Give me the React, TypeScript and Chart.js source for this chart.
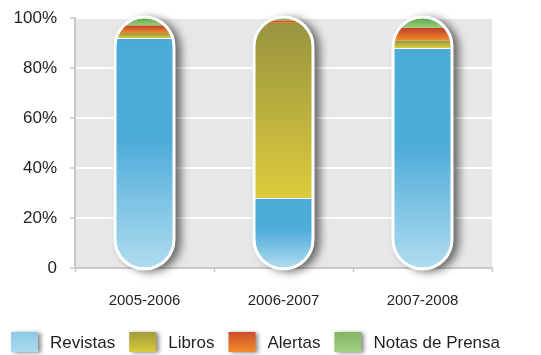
import React, { useEffect, useRef } from "react";
import { Chart, registerables } from "chart.js";

Chart.register(...registerables);

const categories = ["2005-2006", "2006-2007", "2007-2008"];
const seriesNames = ["Revistas", "Libros", "Alertas", "Notas de Prensa"];
const revistas = [92, 28, 88];
const libros = [2, 70, 3];
const alertas = [3, 1, 5];
const notas = [3, 1, 4];
const yTicks = [0, 20, 40, 60, 80, 100];

// gradient stops, top -> bottom
const segStops: [number, string][][] = [
  [[0, "#4aaad8"], [0.45, "#4eacd9"], [1, "#b0dcef"]],
  [[0, "#989440"], [1, "#dccb3c"]],
  [[0, "#c0402a"], [1, "#f28c2c"]],
  [[0, "#58a84a"], [1, "#a0ce7c"]],
];
const legendStops: [number, string][][] = [
  [[0, "#8ccae6"], [1, "#acd9ee"]],
  [[0, "#a29a3a"], [1, "#d8ca3c"]],
  [[0, "#cc4c2a"], [1, "#f28c2a"]],
  [[0, "#84b666"], [1, "#a4d086"]],
];

const FONT = '"Liberation Sans", Arial, sans-serif';

function capsulePath(ctx: CanvasRenderingContext2D, cx: number, top: number, bottom: number, r: number) {
  ctx.moveTo(cx - r, top + r);
  ctx.arc(cx, top + r, r, Math.PI, 0);
  ctx.lineTo(cx + r, bottom - r);
  ctx.arc(cx, bottom - r, r, 0, Math.PI);
  ctx.closePath();
}

function capsules(chart: any) {
  const meta = chart.getDatasetMeta(0);
  const y = chart.scales.y;
  const top = y.getPixelForValue(100);
  const bottom = y.getPixelForValue(0);
  return meta.data.map((el: any) => ({ cx: el.x, r: el.width / 2, top, bottom }));
}

const bgPlugin = {
  id: "plotbg",
  beforeDraw(chart: any) {
    const { ctx, chartArea } = chart;
    ctx.save();
    ctx.fillStyle = "#e6e7e8";
    ctx.fillRect(chartArea.left, chartArea.top, chartArea.right - chartArea.left, chartArea.bottom - chartArea.top);
    ctx.restore();
  },
};

const capsulePlugin = {
  id: "capsule",
  beforeDatasetsDraw(chart: any) {
    const ctx = chart.ctx as CanvasRenderingContext2D;
    const caps = capsules(chart);
    ctx.save();
    ctx.shadowColor = "rgba(0,0,0,0.55)";
    ctx.shadowBlur = 9;
    ctx.shadowOffsetX = 6;
    ctx.shadowOffsetY = 2;
    ctx.fillStyle = "#ffffff";
    for (const c of caps) {
      ctx.beginPath();
      capsulePath(ctx, c.cx, c.top - 2, c.bottom + 2, c.r + 2);
      ctx.fill();
    }
    ctx.restore();
    ctx.save();
    ctx.beginPath();
    for (const c of caps) capsulePath(ctx, c.cx, c.top, c.bottom, c.r);
    ctx.clip();
  },
  afterDatasetsDraw(chart: any) {
    const ctx = chart.ctx as CanvasRenderingContext2D;
    ctx.restore();
    const caps = capsules(chart);
    ctx.save();
    ctx.strokeStyle = "#ffffff";
    ctx.lineWidth = 3;
    for (const c of caps) {
      ctx.beginPath();
      capsulePath(ctx, c.cx, c.top - 1, c.bottom + 1, c.r + 1);
      ctx.stroke();
    }
    ctx.restore();
  },
};

const legendPlugin = {
  id: "customLegend",
  afterDraw(chart: any) {
    const ctx = chart.ctx as CanvasRenderingContext2D;
    const boxW = 27;
    const boxH = 20;
    const cy = chart.height - 13;
    const by = cy - boxH / 2;
    let x = 11;
    ctx.save();
    ctx.font = `17px ${FONT}`;
    ctx.textBaseline = "middle";
    ctx.textAlign = "left";
    chart.data.datasets.forEach((ds: any, i: number) => {
      ctx.save();
      ctx.shadowColor = "rgba(0,0,0,0.45)";
      ctx.shadowBlur = 4;
      ctx.shadowOffsetX = 3;
      ctx.shadowOffsetY = 1;
      const g = ctx.createLinearGradient(0, by, 0, by + boxH);
      legendStops[i].forEach(([o, c]) => g.addColorStop(o, c));
      ctx.fillStyle = g;
      ctx.fillRect(x, by, boxW, boxH);
      ctx.restore();
      ctx.fillStyle = "#231f20";
      const tx = x + boxW + 12;
      ctx.fillText(ds.label, tx, cy + 1);
      x = tx + ctx.measureText(ds.label).width + 14;
    });
    ctx.restore();
  },
};

function segGradient(ctx: any, seriesIndex: number) {
  const chart = ctx.chart;
  const yScale = chart.scales?.y;
  if (!chart.chartArea || !yScale || ctx.type !== "data") return segStops[seriesIndex][0][1];
  const all = [revistas, libros, alertas, notas];
  let start = 0;
  for (let k = 0; k < seriesIndex; k++) start += all[k][ctx.dataIndex];
  const end = start + all[seriesIndex][ctx.dataIndex];
  const y0 = yScale.getPixelForValue(start);
  const y1 = yScale.getPixelForValue(end);
  if (!isFinite(y0) || !isFinite(y1) || y0 === y1) return segStops[seriesIndex][0][1];
  const g = chart.ctx.createLinearGradient(0, y1, 0, y0);
  segStops[seriesIndex].forEach(([o, c]) => g.addColorStop(o, c));
  return g;
}

export default function App() {
  const ref = useRef<HTMLCanvasElement>(null);
  useEffect(() => {
    document.body.style.margin = "0";
    const seriesData = [revistas, libros, alertas, notas];
    const chart = new Chart(ref.current!, {
      type: "bar",
      data: {
        labels: categories,
        datasets: seriesNames.map((name, i) => ({
          label: name,
          data: seriesData[i],
          backgroundColor: (c: any) => segGradient(c, i),
          borderWidth: i === 0 ? { top: 1, left: 0, right: 0, bottom: 0 } : 0,
          borderColor: "rgba(255,255,255,0.9)",
          borderSkipped: false,
          barPercentage: 1,
          categoryPercentage: 0.41,
        })),
      },
      options: {
        animation: false,
        responsive: false,
        maintainAspectRatio: false,
        layout: { padding: { top: 18, right: 49, bottom: 49, left: 0 } },
        plugins: { legend: { display: false }, tooltip: { enabled: false } },
        scales: {
          x: {
            stacked: true,
            afterFit: (s: any) => {
              s.height = 38;
              s.paddingLeft = 0;
              s.paddingRight = 0;
            },
            grid: {
              offset: true,
              drawOnChartArea: false,
              drawTicks: true,
              tickLength: 4,
              tickColor: "#c9c9c9",
              tickWidth: 1.5,
            },
            border: { color: "#c9c9c9", width: 2 },
            ticks: { color: "#231f20", font: { family: FONT, size: 15 }, padding: 20 },
          },
          y: {
            stacked: true,
            min: 0,
            max: 100,
            afterFit: (s: any) => {
              s.width = 75;
              s.paddingTop = 0;
              s.paddingBottom = 0;
            },
            afterBuildTicks: (s: any) => {
              s.ticks = yTicks.map((v) => ({ value: v }));
            },
            grid: {
              color: (c: any) => (c.tick && c.tick.value === 0 ? "rgba(0,0,0,0)" : "#ffffff"),
              lineWidth: 2,
              tickColor: "#c9c9c9",
              tickLength: 5,
              tickWidth: 1.5,
            },
            border: { color: "#c9c9c9", width: 2 },
            ticks: {
              color: "#231f20",
              font: { family: FONT, size: 17 },
              padding: 13,
              callback: (v: any) => (v === 0 ? "0" : `${v}%`),
            },
          },
        },
      },
      plugins: [bgPlugin, capsulePlugin, legendPlugin],
    });
    return () => chart.destroy();
  }, []);
  return (
    <div style={{ width: 541, height: 355 }}>
      <canvas ref={ref} width={541} height={355} style={{ display: "block" }} />
    </div>
  );
}
